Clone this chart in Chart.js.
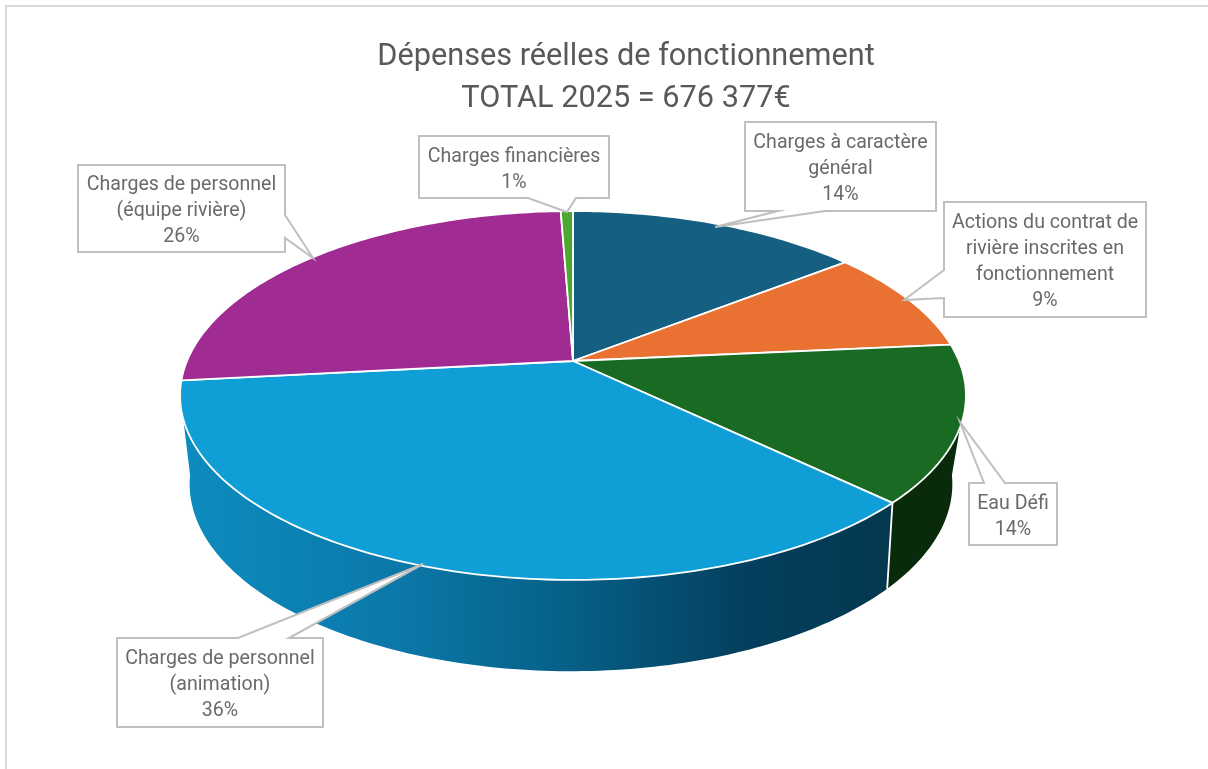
<!DOCTYPE html>
<html lang="fr">
<head>
<meta charset="utf-8">
<title>Dépenses réelles de fonctionnement</title>
<script src="https://cdn.jsdelivr.net/npm/chart.js@4"></script>
<style>
  html, body { margin: 0; padding: 0; background: #fff; }
  canvas { display: block; filter: blur(0.5px); }
</style>
</head>
<body>
<canvas id="myChart" width="1208" height="769"></canvas>
<script>
const categories = [
  "Charges à caractère général",
  "Actions du contrat de rivière inscrites en fonctionnement",
  "Eau Défi",
  "Charges de personnel (animation)",
  "Charges de personnel (équipe rivière)",
  "Charges financières",
];
const values = [14.4, 9.1, 13.7, 36.1, 26.1, 0.6];
const sliceColors = ["#156082", "#E97132", "#196B24", "#0F9ED5", "#A02B93", "#4EA72E"];
const titleLines = ["Dépenses réelles de fonctionnement", "TOTAL 2025 = 676 377€"];
const labelLines = [
  ["Charges à caractère", "général"],
  ["Actions du contrat de", "rivière inscrites en", "fonctionnement"],
  ["Eau Défi"],
  ["Charges de personnel", "(animation)"],
  ["Charges de personnel", "(équipe rivière)"],
  ["Charges financières"],
];

// box = x, y, w, h, pointer = base a, base b, tip
const callouts = [
  { box: [745, 122, 191, 89], ptr: [[778, 211], [825, 211], [715, 227]] },
  { box: [944, 202, 202, 115], ptr: [[944, 270], [944, 298], [904, 300]] },
  { box: [969, 483, 88, 62], ptr: [[984, 483], [1005, 483], [960, 422]] },
  { box: [117, 638, 206, 89], ptr: [[238, 638], [289, 638], [423, 564]] },
  { box: [78, 165, 207, 87], ptr: [[285, 215], [285, 238], [313, 258]] },
  { box: [419, 136, 190, 62], ptr: [[528, 198], [576, 198], [567, 212]] },
];

// perspective of the top and bottom discs (arc angle -> page position)
const topDisc = { cx: 573, cy: 361, a: 386, b: 178, k: -0.187 };
const bottomDisc = { cx: 571, cy: 443, a: 372, b: 178, k: -0.22 };
const frontFrom = 10 * Math.PI / 180;
const frontTo = 170 * Math.PI / 180;

const wallShades = {
  2: [[0, "#0A2A0C"], [1, "#0A2A0C"]],
  3: [[0, "#0E8BBE"], [0.3, "#0A78A8"], [0.55, "#065F86"], [0.8, "#043F5E"], [1, "#04384F"]],
};

function project(disc, angle) {
  const u = Math.cos(angle), v = Math.sin(angle);
  const d = 1 + disc.k * v;
  return [disc.cx + disc.a * u / d, disc.cy + disc.b * v / d];
}

function rimPath(ctx, disc, from, to, move) {
  const steps = Math.max(4, Math.ceil(Math.abs(to - from) * 60));
  for (let i = 0; i <= steps; i++) {
    const p = project(disc, from + (to - from) * i / steps);
    if (i === 0 && move) ctx.moveTo(p[0], p[1]);
    else ctx.lineTo(p[0], p[1]);
  }
}

const pie3d = {
  id: "pie3d",
  beforeDraw(chart) {
    const ctx = chart.ctx;
    ctx.save();
    ctx.fillStyle = "#fff";
    ctx.fillRect(0, 0, chart.width, chart.height);
    ctx.strokeStyle = "#D9D9D9";
    ctx.lineWidth = 2;
    ctx.beginPath();
    ctx.moveTo(6, chart.height + 2);
    ctx.lineTo(6, 6);
    ctx.lineTo(chart.width + 2, 6);
    ctx.stroke();
    ctx.restore();
  },
  // the arcs are drawn here in perspective, from the angles the library worked out
  beforeDatasetDraw(chart, args) {
    const ctx = chart.ctx;
    const arcs = args.meta.data;
    ctx.save();
    ctx.lineJoin = "round";

    arcs.forEach((arc, i) => {
      const from = Math.max(arc.startAngle, frontFrom);
      const to = Math.min(arc.endAngle, frontTo);
      if (to <= from || !wallShades[i]) return;
      const grad = ctx.createLinearGradient(190, 0, 885, 0);
      wallShades[i].forEach(s => grad.addColorStop(s[0], s[1]));
      ctx.beginPath();
      rimPath(ctx, topDisc, from, to, true);
      rimPath(ctx, bottomDisc, to, from, false);
      ctx.closePath();
      ctx.fillStyle = grad;
      ctx.fill();
    });

    // white seam between the two front walls
    const seamAngle = arcs[2].endAngle;
    const seamTop = project(topDisc, seamAngle), seamBottom = project(bottomDisc, seamAngle);
    ctx.strokeStyle = "#fff";
    ctx.lineWidth = 1.8;
    ctx.beginPath();
    ctx.moveTo(seamTop[0], seamTop[1]);
    ctx.lineTo(seamBottom[0], seamBottom[1]);
    ctx.stroke();

    arcs.forEach((arc, i) => {
      ctx.beginPath();
      ctx.moveTo(topDisc.cx, topDisc.cy);
      rimPath(ctx, topDisc, arc.startAngle, arc.endAngle, false);
      ctx.closePath();
      ctx.fillStyle = sliceColors[i];
      ctx.fill();
      ctx.strokeStyle = "#fff";
      ctx.lineWidth = 1.8;
      ctx.stroke();
    });
    ctx.restore();
    return false;
  },
  afterDatasetsDraw(chart) {
    const ctx = chart.ctx;
    const total = values.reduce((a, b) => a + b, 0);
    ctx.save();
    callouts.forEach((c, i) => {
      const [x, y, w, h] = c.box;
      const [p1, p2, tip] = c.ptr;
      // walk round the box and slip the pointer into the side it sits on
      const corners = [[x, y], [x + w, y], [x + w, y + h], [x, y + h]];
      const onSide = (p, s) => {
        if (s === 0) return p[1] === y;
        if (s === 1) return p[0] === x + w;
        if (s === 2) return p[1] === y + h;
        return p[0] === x;
      };
      ctx.beginPath();
      ctx.moveTo(corners[0][0], corners[0][1]);
      for (let s = 0; s < 4; s++) {
        if (onSide(p1, s) && onSide(p2, s)) {
          const dist = p => Math.abs(p[0] - corners[s][0]) + Math.abs(p[1] - corners[s][1]);
          const first = dist(p1) < dist(p2) ? p1 : p2;
          const second = first === p1 ? p2 : p1;
          ctx.lineTo(first[0], first[1]);
          ctx.lineTo(tip[0], tip[1]);
          ctx.lineTo(second[0], second[1]);
        }
        const next = corners[(s + 1) % 4];
        ctx.lineTo(next[0], next[1]);
      }
      ctx.closePath();
      ctx.fillStyle = "#fff";
      ctx.fill();
      ctx.strokeStyle = "#BFBFBF";
      ctx.lineWidth = 2;
      ctx.lineJoin = "miter";
      ctx.stroke();

      const lines = labelLines[i].concat(Math.round(values[i] / total * 100) + "%");
      const lineH = 26;
      ctx.fillStyle = "#6A6A6A";
      ctx.font = "19.6px Roboto";
      ctx.textAlign = "center";
      ctx.textBaseline = "middle";
      const startY = y + h / 2 - (lines.length - 1) * lineH / 2 + 3;
      lines.forEach((t, n) => ctx.fillText(t, x + w / 2, startY + n * lineH));
    });
    ctx.restore();
  },
};

new Chart(document.getElementById("myChart").getContext("2d"), {
  type: "pie",
  data: {
    labels: categories,
    datasets: [{ data: values, backgroundColor: sliceColors }],
  },
  options: {
    responsive: false,
    animation: false,
    layout: { padding: { left: 44 } },
    plugins: {
      legend: { display: false },
      tooltip: { enabled: false },
      title: {
        display: true,
        text: titleLines,
        color: "#595959",
        font: { family: "Roboto", size: 30.7, weight: "normal", lineHeight: 1.37 },
        padding: { top: 36, bottom: 10 },
      },
    },
  },
  plugins: [pie3d],
});
</script>
</body>
</html>
